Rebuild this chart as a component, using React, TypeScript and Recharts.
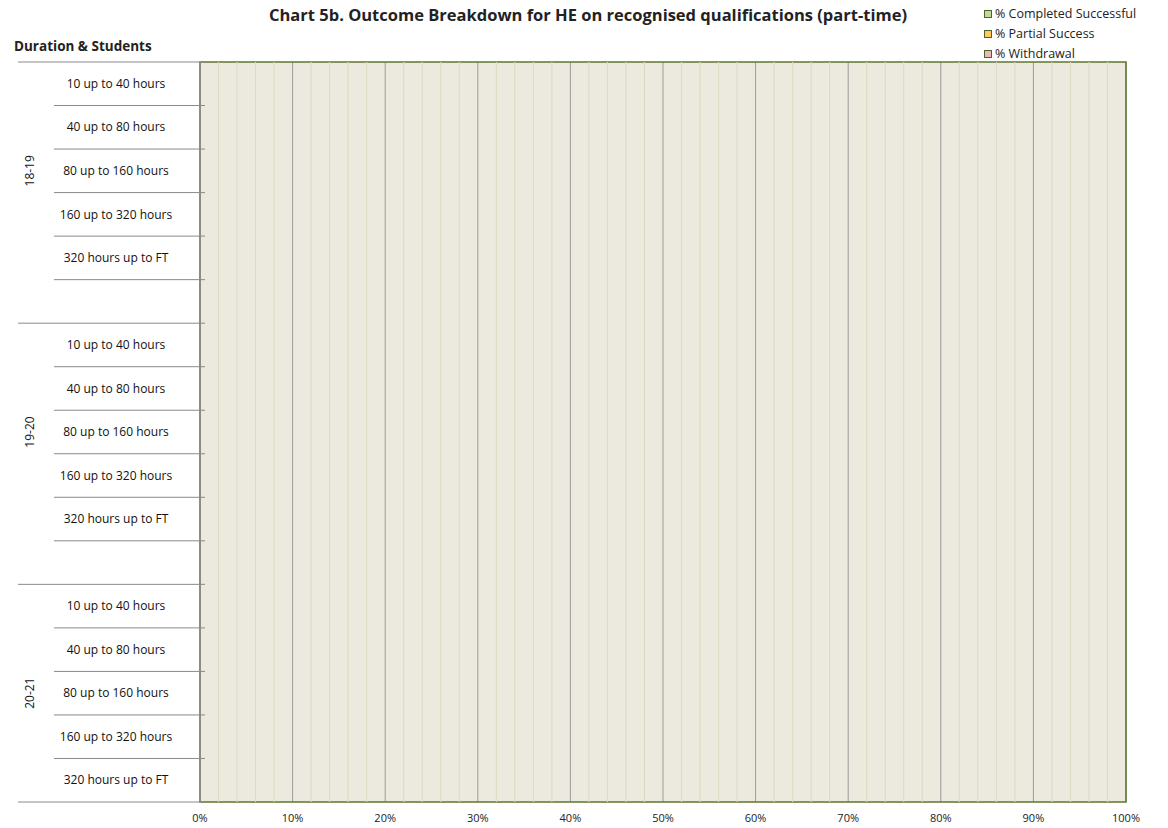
import { BarChart, Bar, XAxis, YAxis, CartesianGrid, ReferenceArea, ReferenceLine, Legend } from 'recharts';

const years = ['18-19', '19-20', '20-21'];
const durations = [
  '10 up to 40 hours',
  '40 up to 80 hours',
  '80 up to 160 hours',
  '160 up to 320 hours',
  '320 hours up to FT',
];

// the source chart shows no bars at all, so every outcome is blank
const completedSuccessful = [null, null, null, null, null, null, null, null, null, null, null, null, null, null, null];
const partialSuccess = [null, null, null, null, null, null, null, null, null, null, null, null, null, null, null];
const withdrawal = [null, null, null, null, null, null, null, null, null, null, null, null, null, null, null];

const majorTicks = [0, 10, 20, 30, 40, 50, 60, 70, 80, 90, 100];
const minorTicks = [2, 4, 6, 8, 12, 14, 16, 18, 22, 24, 26, 28, 32, 34, 36, 38, 42, 44, 46, 48,
  52, 54, 56, 58, 62, 64, 66, 68, 72, 74, 76, 78, 82, 84, 86, 88, 92, 94, 96, 98];

const FONT = '"Open Sans", sans-serif';
const W = 1160;
const H = 820;
const TOP = 54;
const BOTTOM = 26;
const LEFT = 192;

type Row = { key: string; year: string; label: string; gap: boolean; completed: number | null; partial: number | null; withdrawn: number | null };

const rows: Row[] = [];
years.forEach((year, yi) => {
  durations.forEach((label, di) => {
    const i = yi * durations.length + di;
    rows.push({ key: `${year}|${label}`, year, label, gap: false,
      completed: completedSuccessful[i], partial: partialSuccess[i], withdrawn: withdrawal[i] });
  });
  if (yi < years.length - 1) {
    rows.push({ key: `${year}|gap`, year, label: '', gap: true, completed: null, partial: null, withdrawn: null });
  }
});

const rowH = (H - TOP - BOTTOM) / rows.length;

const CategoryTick = (props: any) => {
  const { y, index } = props;
  const row = rows[index];
  if (!row) return null;
  const below = y + rowH / 2;
  const longBelow = row.gap || index === rows.length - 1;
  return (
    <g>
      {index === 0 && <line x1={10} x2={LEFT + 5} y1={y - rowH / 2} y2={y - rowH / 2} stroke="#8a8a8a" />}
      <line x1={longBelow ? 10 : 46} x2={LEFT + 5} y1={below} y2={below} stroke="#8a8a8a" />
      {row.label && (
        <text x={108} y={y} dy="0.35em" textAnchor="middle" fontSize={12} fontFamily={FONT} fill="#111">
          {row.label}
        </text>
      )}
      {durations.indexOf(row.label) === 2 && (
        <text x={22} y={y} dy="0.35em" textAnchor="middle" fontSize={12} fontFamily={FONT} fill="#111"
          transform={`rotate(-90 22 ${y})`}>
          {row.year}
        </text>
      )}
    </g>
  );
};

const LegendBox = ({ payload }: any) => (
  <div style={{ fontFamily: FONT, fontSize: 12.5, color: '#222', lineHeight: '20px' }}>
    {(payload || []).map((p: any) => (
      <div key={p.value} style={{ display: 'flex', alignItems: 'center' }}>
        <span style={{ width: 6, height: 6, background: p.color, border: '1px solid #4f6228', marginRight: 3 }} />
        {p.value}
      </div>
    ))}
  </div>
);

export default function App() {
  return (
    <div style={{ position: 'relative', width: W, height: H }}>
      <div style={{ position: 'absolute', left: 0, width: W, top: -1, lineHeight: '16px', textAlign: 'center',
        fontFamily: FONT, fontWeight: 700, fontSize: 16.5, color: '#222' }}>
        Chart 5b. Outcome Breakdown for HE on recognised qualifications (part-time)
      </div>
      <div style={{ position: 'absolute', left: 6, top: 30, lineHeight: '16px', fontFamily: FONT, fontWeight: 700,
        fontSize: 13.5, color: '#222' }}>
        Duration &amp; Students
      </div>
      <BarChart width={W} height={H} data={rows} layout="vertical" barCategoryGap="30%"
        margin={{ top: TOP, right: W - 1118, bottom: 0, left: 0 }}>
        <CartesianGrid horizontal={false} stroke="#9b9b9b" fill="#ece9df" fillOpacity={1} />
        {minorTicks.map((t) => (
          <ReferenceLine key={t} x={t} stroke="#ddd9c2" strokeWidth={1} />
        ))}
        <XAxis type="number" domain={[0, 100]} ticks={majorTicks} tickFormatter={(v) => `${v}%`} height={BOTTOM}
          axisLine={false} tickLine={false} tickSize={0} tickMargin={12}
          tick={{ fontSize: 11, fontFamily: FONT, fill: '#222' }} />
        <YAxis type="category" dataKey="key" width={LEFT} interval={0} tickLine={false}
          axisLine={{ stroke: '#8c8c80', strokeWidth: 2 }} tick={<CategoryTick />} />
        <Bar dataKey="completed" name="% Completed Successful" stackId="a" fill="#c4d79b" stroke="#4f6228" isAnimationActive={false} />
        <Bar dataKey="partial" name="% Partial Success" stackId="a" fill="#ffc95e" stroke="#4f6228" isAnimationActive={false} />
        <Bar dataKey="withdrawn" name="% Withdrawal" stackId="a" fill="#e6b9b8" stroke="#4f6228" isAnimationActive={false} />
        <ReferenceArea x1={0} x2={100} fill="none" stroke="#5f7530" strokeWidth={1.5} />
        <Legend layout="vertical" align="center" verticalAlign="middle" content={<LegendBox />}
          wrapperStyle={{ position: 'absolute', top: -4, left: 976, width: 190 }} />
      </BarChart>
    </div>
  );
}
